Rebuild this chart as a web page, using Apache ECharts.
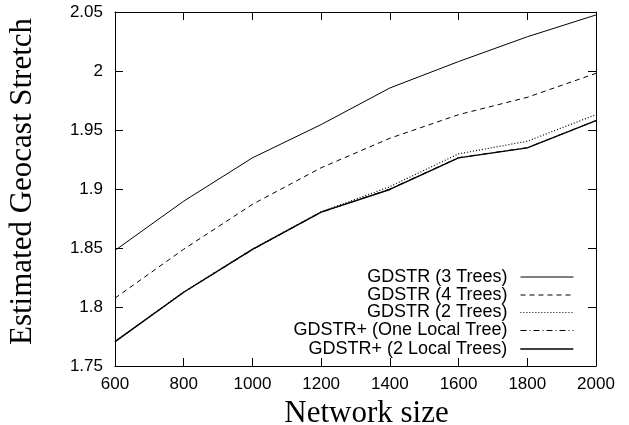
<!DOCTYPE html>
<html>
<head>
<meta charset="utf-8">
<script src="https://cdn.jsdelivr.net/npm/echarts@6/dist/echarts.min.js"></script>
<style>html,body{margin:0;padding:0;background:#fff}#c{width:629px;height:425px}</style>
</head>
<body>
<div id="c"></div>
<script>
const networkSize = [600, 800, 1000, 1200, 1400, 1600, 1800, 2000];
const gdstr3Trees = [1.848, 1.8897, 1.9264, 1.9546, 1.9856, 2.008, 2.029, 2.0475];
const gdstr4Trees = [1.8075, 1.849, 1.887, 1.918, 1.943, 1.963, 1.9777, 1.998];
const gdstr2Trees = [1.7706, 1.8128, 1.849, 1.8807, 1.902, 1.9298, 1.9405, 1.963];
const gdstrPlusOneLocal = [1.7706, 1.8125, 1.8485, 1.8803, 1.9, 1.9266, 1.935, 1.958];
const gdstrPlus2Local = [1.7706, 1.8125, 1.8488, 1.8804, 1.8996, 1.9264, 1.9349, 1.958];
const seriesNames = ['GDSTR (3 Trees)', 'GDSTR (4 Trees)', 'GDSTR (2 Trees)', 'GDSTR+ (One Local Tree)', 'GDSTR+ (2 Local Trees)'];
const seriesValues = [gdstr3Trees, gdstr4Trees, gdstr2Trees, gdstrPlusOneLocal, gdstrPlus2Local];

const styles = [
  {type: 'solid', width: 1},
  {type: [5, 4], width: 1},
  {type: [1, 2], width: 1.2},
  {type: [6, 3, 1, 3], width: 1},
  {type: 'solid', width: 1.4}
];
const legendCenters = [277, 295, 312.5, 330.5, 349];

const chart = echarts.init(document.getElementById('c'), null, {renderer: 'canvas'});
const tickFont = {fontFamily: 'Liberation Sans, Arial, sans-serif', fontSize: 17, color: '#000'};
const axisCommon = {
  axisLine: {show: true, lineStyle: {color: '#000', width: 1}},
  axisTick: {show: true, inside: true, length: 8, lineStyle: {color: '#000'}},
  splitLine: {show: false}
};
const option = {
  animation: false,
  backgroundColor: '#fff',
  grid: {left: 115, right: 33, top: 12, bottom: 59, containLabel: false, outerBoundsMode: 'none'},
  xAxis: [
    Object.assign({}, axisCommon, {
      type: 'value', min: 600, max: 2000, interval: 200, position: 'bottom',
      axisLabel: Object.assign({margin: 10, formatter: v => String(v)}, tickFont),
      name: 'Network size', nameLocation: 'middle', nameGap: 29,
      nameTextStyle: {fontFamily: 'Liberation Serif, Times New Roman, serif', fontSize: 31, color: '#000', padding: [0, 0, 0, 22]}
    }),
    Object.assign({}, axisCommon, {
      type: 'value', min: 600, max: 2000, interval: 200, position: 'top',
      axisLabel: {show: false}
    })
  ],
  yAxis: [
    Object.assign({}, axisCommon, {
      type: 'value', min: 1.75, max: 2.05, interval: 0.05, position: 'left',
      axisLabel: Object.assign({margin: 12, formatter: v => String(parseFloat(v.toFixed(2)))}, tickFont),
      name: 'Estimated Geocast Stretch', nameLocation: 'middle', nameGap: 77,
      nameTextStyle: {fontFamily: 'Liberation Serif, Times New Roman, serif', fontSize: 31, color: '#000', padding: [0, 0, 0, 15]}
    }),
    Object.assign({}, axisCommon, {
      type: 'value', min: 1.75, max: 2.05, interval: 0.05, position: 'right',
      axisLabel: {show: false}
    })
  ],
  legend: seriesNames.map((n, i) => ({
    data: [n], orient: 'vertical', align: 'right', right: 55, top: legendCenters[i] - 9,
    itemWidth: 53, itemHeight: 18, padding: 0, selectedMode: false,
    itemStyle: {opacity: 0},
    lineStyle: {width: styles[i].width, type: styles[i].type, color: '#000'},
    textStyle: {fontFamily: 'Liberation Sans, Arial, sans-serif', fontSize: 18, color: '#000', padding: [0, 8, 0, 0]}
  })),
  series: seriesNames.map((n, i) => ({
    name: n, type: 'line', xAxisIndex: 0, yAxisIndex: 0,
    symbol: 'none', showSymbol: false, z: 10 - i,
    lineStyle: {color: '#000', type: styles[i].type, width: styles[i].width},
    itemStyle: {color: '#000'},
    data: networkSize.map((x, j) => [x, seriesValues[i][j]])
  }))
};
chart.setOption(option);
</script>
</body>
</html>
